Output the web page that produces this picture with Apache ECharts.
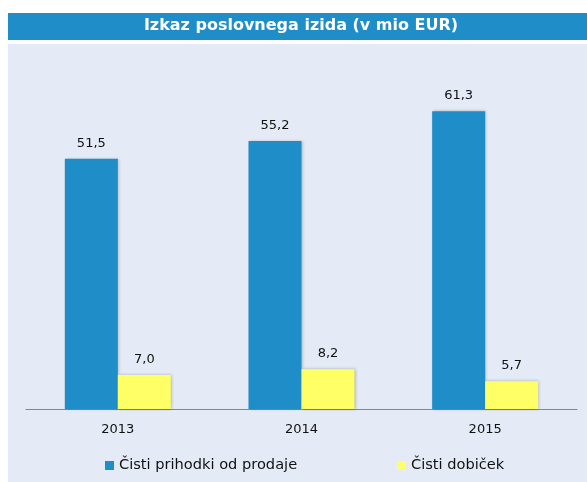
<!DOCTYPE html>
<html><head><meta charset="utf-8">
<style>html,body{margin:0;padding:0;background:#fff}#c{width:587px;height:482px}</style>
<script src="https://cdn.jsdelivr.net/npm/echarts@6/dist/echarts.min.js"></script>
</head><body><div id="c"></div>
<script>
const categories = ['2013', '2014', '2015'];
const seriesNames = ['Čisti prihodki od prodaje', 'Čisti dobiček'];
const revenue = [51.5, 55.2, 61.3];
const profit = [7.0, 8.2, 5.7];
const titleText = 'Izkaz poslovnega izida (v mio EUR)';

const chart = echarts.init(document.getElementById('c'), null, {renderer: 'canvas'});
const font = 'DejaVu Sans, Verdana, sans-serif';
const fmt = p => p.value.toFixed(1).replace('.', ',');
chart.setOption({
  animation: false,
  textStyle: {fontFamily: font},
  graphic: [
    {type: 'rect', z: -10, shape: {x: 8, y: 44, width: 579, height: 438}, style: {fill: '#e4ebf6'}},
    {type: 'rect', z: -10, shape: {x: 8, y: 13, width: 579, height: 27}, style: {fill: '#1f8ec8'}},
    {type: 'text', z: 10, x: 301, y: 26, style: {text: titleText, fill: '#fff', font: 'bold 16px ' + font, textAlign: 'center', textVerticalAlign: 'middle'}}
  ],
  legend: [
    {data: [seriesNames[0]], left: 100, top: 453, itemWidth: 9, itemHeight: 9, itemGap: 0,
     textStyle: {fontSize: 14.6, color: '#111', fontFamily: font}, icon: 'rect'},
    {data: [seriesNames[1]], left: 392, top: 453, itemWidth: 9, itemHeight: 9, itemGap: 0,
     textStyle: {fontSize: 14.6, color: '#111', fontFamily: font}, icon: 'rect'}
  ],
  grid: {left: 26, right: 10, top: 69, bottom: 73, containLabel: false},
  xAxis: {type: 'category', data: categories,
    axisLine: {lineStyle: {color: '#5d8fc8', width: 1}},
    axisTick: {show: false},
    axisLabel: {fontSize: 13, color: '#111', margin: 14, fontFamily: font}},
  yAxis: {type: 'value', min: 0, max: 70, show: false, splitLine: {show: false}},
  series: [
    {name: seriesNames[0], type: 'bar', data: revenue, barWidth: 53, barGap: '0%',
     itemStyle: {color: '#1f8ec8', shadowColor: 'rgba(0,0,0,0.25)', shadowBlur: 3, shadowOffsetX: 1},
     label: {show: true, position: 'top', distance: 9, fontSize: 13, color: '#111', formatter: fmt, fontFamily: font}},
    {name: seriesNames[1], type: 'bar', data: profit, barWidth: 53,
     itemStyle: {color: '#ffff66', shadowColor: 'rgba(0,0,0,0.25)', shadowBlur: 3, shadowOffsetX: 1},
     label: {show: true, position: 'top', distance: 9, fontSize: 13, color: '#111', formatter: fmt, fontFamily: font}}
  ]
});
</script></body></html>
